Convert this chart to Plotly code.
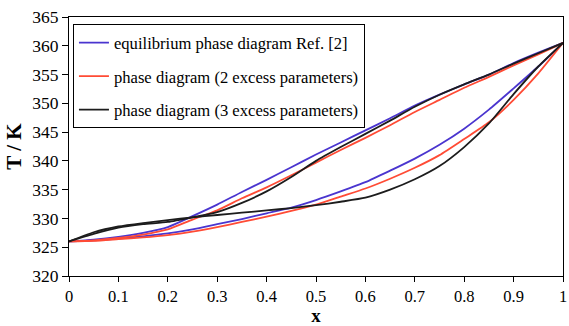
import plotly.graph_objects as go

x = [0, .05, .1, .15, .2, .25, .3, .35, .4, .45, .5, .55, .6, .65, .7, .75, .8, .85, .9, .95, 1]

# equilibrium phase diagram Ref. [2]
blue_upper = [326.0, 326.3, 326.8, 327.5, 328.5, 330.4, 332.4, 334.6, 336.7, 338.9, 341.1,
              343.2, 345.3, 347.4, 349.6, 351.5, 353.3, 355.0, 357.0, 358.8, 360.5]
blue_lower = [326.0, 326.2, 326.5, 326.9, 327.4, 328.1, 329.0, 329.9, 330.9, 331.9, 333.2,
              334.7, 336.3, 338.3, 340.4, 342.8, 345.6, 348.9, 352.6, 356.4, 360.5]
# phase diagram (2 excess parameters)
red_upper = [326.0, 326.2, 326.6, 327.2, 328.1, 329.8, 331.4, 333.5, 335.4, 337.5, 339.7,
             341.9, 344.0, 346.2, 348.5, 350.6, 352.7, 354.6, 356.6, 358.5, 360.5]
red_lower = [326.0, 326.1, 326.4, 326.7, 327.1, 327.7, 328.5, 329.4, 330.3, 331.3, 332.4,
             333.8, 335.2, 336.9, 338.8, 341.0, 343.8, 346.7, 350.6, 355.2, 360.5]
# phase diagram (3 excess parameters)
black_upper = [326.0, 327.3, 328.4, 329.0, 329.4, 330.2, 331.1, 332.7, 334.7, 337.2, 340.0,
               342.4, 344.7, 347.0, 349.4, 351.5, 353.3, 355.0, 356.9, 358.7, 360.5]
black_lower = [326.0, 327.6, 328.6, 329.2, 329.7, 330.2, 330.6, 331.0, 331.4, 331.8, 332.3,
               332.9, 333.6, 335.0, 336.8, 339.1, 342.4, 346.5, 351.6, 356.4, 360.5]

names = ["equilibrium phase diagram Ref. [2]",
         "phase diagram (2 excess parameters)",
         "phase diagram (3 excess parameters)"]
colors = ["#4a35cf", "#ff4b35", "#1c1c1c"]
series = [(blue_upper, blue_lower), (red_upper, red_lower), (black_upper, black_lower)]

x_ticks = [0, 0.1, 0.2, 0.3, 0.4, 0.5, 0.6, 0.7, 0.8, 0.9, 1]
x_tick_text = ["0", "0.1", "0.2", "0.3", "0.4", "0.5", "0.6", "0.7", "0.8", "0.9", "1"]
y_ticks = [320, 325, 330, 335, 340, 345, 350, 355, 360, 365]

font = "Liberation Serif, Times New Roman, serif"

fig = go.Figure()
for i, ((up, lo), name, col) in enumerate(zip(series, names, colors)):
    fig.add_trace(go.Scatter(x=x, y=up, mode="lines", name=name, legendgroup=f"g{i}",
                             line=dict(color=col, width=1.8, shape="spline", smoothing=0.6)))
    fig.add_trace(go.Scatter(x=x, y=lo, mode="lines", name=name, legendgroup=f"g{i}",
                             showlegend=False,
                             line=dict(color=col, width=1.8, shape="spline", smoothing=0.6)))

fig.update_layout(
    width=569, height=326,
    margin=dict(l=69, r=2, t=17, b=48),
    paper_bgcolor="white", plot_bgcolor="white",
    font=dict(family=font, size=16, color="black"),
    showlegend=True,
    legend=dict(x=0.008, y=0.972, xanchor="left", yanchor="top",
                bordercolor="black", borderwidth=1, bgcolor="white",
                font=dict(family=font, size=16.6, color="black"),
                tracegroupgap=9),
    xaxis=dict(range=[0, 1], tickvals=x_ticks, ticktext=x_tick_text,
               showgrid=False, zeroline=False,
               showline=True, linecolor="black", linewidth=1.2, mirror=True,
               ticks="outside", ticklen=5, tickcolor="black",
               ticklabeloverflow="allow",
               tickfont=dict(family=font, size=16.5),
               title=dict(text="<b>x</b>", font=dict(family=font, size=19), standoff=5)),
    yaxis=dict(range=[320, 365], tickvals=y_ticks,
               showgrid=False, zeroline=False,
               showline=True, linecolor="black", linewidth=1.2, mirror=True,
               ticks="outside", ticklen=6, tickcolor="black",
               tickfont=dict(family=font, size=17.5),
               title=dict(text="<b>T / K</b>", font=dict(family=font, size=21), standoff=4)),
)

fig.write_html("out.html")
